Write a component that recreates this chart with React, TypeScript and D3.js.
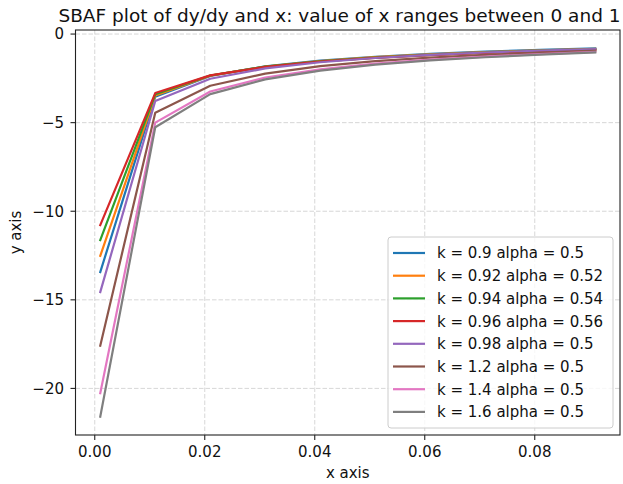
import React from "react";
import * as d3 from "d3";

const xValues = [0.001, 0.011, 0.021, 0.031, 0.041, 0.051, 0.061, 0.071, 0.081, 0.091];

const labels = [
  "k = 0.9 alpha = 0.5",
  "k = 0.92 alpha = 0.52",
  "k = 0.94 alpha = 0.54",
  "k = 0.96 alpha = 0.56",
  "k = 0.98 alpha = 0.5",
  "k = 1.2 alpha = 0.5",
  "k = 1.4 alpha = 0.5",
  "k = 1.6 alpha = 0.5",
];

const colors = ["#1f77b4", "#ff7f0e", "#2ca02c", "#d62728", "#9467bd", "#8c564b", "#e377c2", "#7f7f7f"];

const seriesK09 = [-13.43, -3.53, -2.36, -1.82, -1.5, -1.28, -1.12, -0.99, -0.89, -0.81];
const seriesK092 = [-12.52, -3.47, -2.35, -1.84, -1.52, -1.3, -1.14, -1.02, -0.92, -0.84];
const seriesK094 = [-11.63, -3.4, -2.34, -1.84, -1.54, -1.33, -1.17, -1.04, -0.94, -0.86];
const seriesK096 = [-10.78, -3.33, -2.33, -1.85, -1.55, -1.34, -1.19, -1.07, -0.97, -0.89];
const seriesK098 = [-14.56, -3.78, -2.52, -1.94, -1.59, -1.35, -1.18, -1.04, -0.94, -0.85];
const seriesK12 = [-17.59, -4.44, -2.92, -2.23, -1.81, -1.53, -1.33, -1.17, -1.05, -0.94];
const seriesK14 = [-20.27, -5.0, -3.24, -2.45, -1.99, -1.67, -1.44, -1.27, -1.13, -1.01];
const seriesK16 = [-21.59, -5.26, -3.39, -2.56, -2.06, -1.73, -1.49, -1.31, -1.16, -1.04];

const allSeries = [seriesK09, seriesK092, seriesK094, seriesK096, seriesK098, seriesK12, seriesK14, seriesK16];

const xTicks = [0.0, 0.02, 0.04, 0.06, 0.08];
const yTicks = [0, -5, -10, -15, -20];

const W = 623;
const H = 484;
const left = 75.5;
const right = 620;
const top = 30;
const bottom = 435;
const FONT = "DejaVu Sans, sans-serif";

export default function App() {
  const xMin = d3.min(xValues)!;
  const xMax = d3.max(xValues)!;
  const xPad = (xMax - xMin) * 0.05;
  const allY = allSeries.flat();
  const yMin = d3.min(allY)!;
  const yMax = d3.max(allY)!;
  const yPad = (yMax - yMin) * 0.05;

  const x = d3.scaleLinear().domain([xMin - xPad, xMax + xPad]).range([left, right]);
  const y = d3.scaleLinear().domain([yMin - yPad, yMax + yPad]).range([bottom, top]);

  const line = d3
    .line<number>()
    .x((_, i) => x(xValues[i]))
    .y((d) => y(d));

  const fmtMinus = (v: number) => (v < 0 ? "\u2212" + Math.abs(v) : String(v));

  const legLeft = 388;
  const legTop = 237;
  const legRight = 613;
  const legBottom = 428;
  const rowH = 22.7;
  const firstRow = 253;

  return (
    <svg
      width={W}
      height={H}
      style={{ position: "absolute", left: 0, top: 0, background: "#fff" }}
      fontFamily={FONT}
    >
      <rect x={0} y={0} width={W} height={H} fill="#fff" />
      {/* grid */}
      {xTicks.map((t) => (
        <line
          key={"gx" + t}
          x1={x(t)}
          x2={x(t)}
          y1={top}
          y2={bottom}
          stroke="#b0b0b0"
          strokeOpacity={0.5}
          strokeWidth={1}
          strokeDasharray="4.5,2"
        />
      ))}
      {yTicks.map((t) => (
        <line
          key={"gy" + t}
          x1={left}
          x2={right}
          y1={y(t)}
          y2={y(t)}
          stroke="#b0b0b0"
          strokeOpacity={0.5}
          strokeWidth={1}
          strokeDasharray="4.5,2"
        />
      ))}
      {/* lines */}
      {allSeries.map((s, i) => (
        <path
          key={"s" + i}
          d={line(s) || ""}
          fill="none"
          stroke={colors[i]}
          strokeWidth={2.2}
          strokeLinejoin="round"
          strokeLinecap="square"
        />
      ))}
      {/* frame */}
      <rect x={left} y={top} width={right - left} height={bottom - top} fill="none" stroke="#222" strokeWidth={1.1} />
      {/* x ticks */}
      {xTicks.map((t) => (
        <g key={"xt" + t}>
          <line x1={x(t)} x2={x(t)} y1={bottom} y2={bottom + 5} stroke="#222" strokeWidth={1.1} />
          <text x={x(t)} y={457} textAnchor="middle" fontSize={15} fill="#111">
            {t.toFixed(2)}
          </text>
        </g>
      ))}
      {/* y ticks */}
      {yTicks.map((t) => (
        <g key={"yt" + t}>
          <line x1={left - 5} x2={left} y1={y(t)} y2={y(t)} stroke="#222" strokeWidth={1.1} />
          <text x={left - 11.5} y={y(t)} dy="0.36em" textAnchor="end" fontSize={15} fill="#111">
            {fmtMinus(t)}
          </text>
        </g>
      ))}
      {/* labels */}
      <text x={(left + right) / 2} y={478} textAnchor="middle" fontSize={15} fill="#111">
        x axis
      </text>
      <text
        transform={`translate(21, ${(top + bottom) / 2}) rotate(-90)`}
        textAnchor="middle"
        fontSize={15}
        fill="#111"
      >
        y axis
      </text>
      <text x={339.5} y={22} textAnchor="middle" fontSize={18.5} fill="#111">
        SBAF plot of dy/dy and x: value of x ranges between 0 and 1
      </text>
      {/* legend */}
      <rect
        x={legLeft}
        y={legTop}
        width={legRight - legLeft}
        height={legBottom - legTop}
        rx={3}
        fill="#fff"
        fillOpacity={0.8}
        stroke="#cccccc"
        strokeWidth={1}
      />
      {labels.map((lab, i) => {
        const cy = firstRow + i * rowH;
        return (
          <g key={"lg" + i}>
            <line x1={393} x2={425} y1={cy} y2={cy} stroke={colors[i]} strokeWidth={2.2} />
            <text x={437} y={cy} dy="0.36em" fontSize={15} fill="#111">
              {lab}
            </text>
          </g>
        );
      })}
    </svg>
  );
}
